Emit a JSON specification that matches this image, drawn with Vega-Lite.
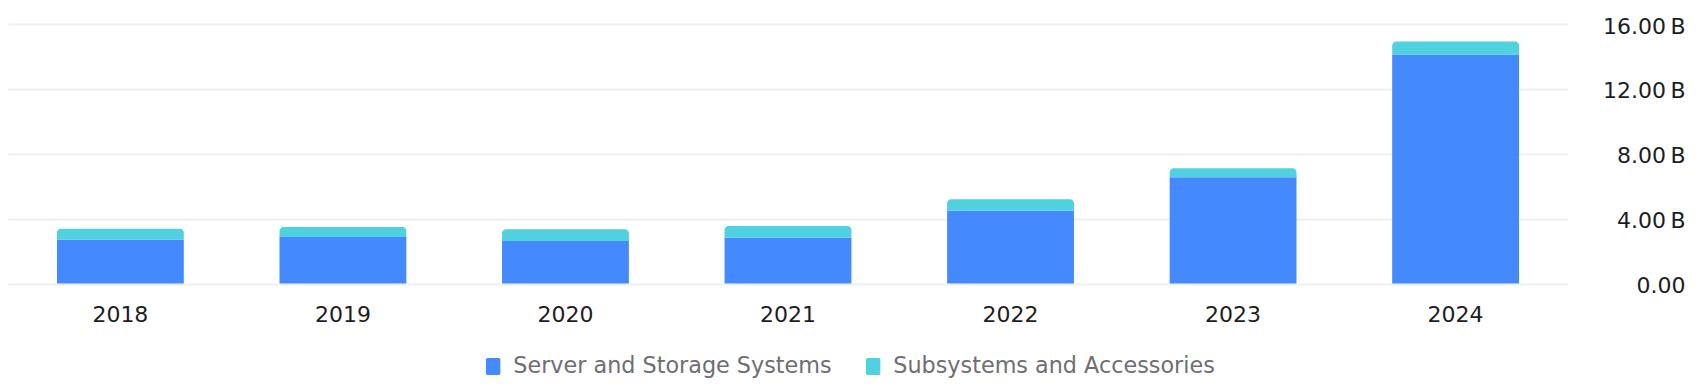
{
  "$schema": "https://vega.github.io/schema/vega-lite/v6.json",
  "width": 1560,
  "height": 259.5,
  "autosize": {"type": "none"},
  "padding": {"left": 8, "top": 24, "right": 134, "bottom": 106.5},
  "background": "white",
  "config": {"view": {"stroke": null}, "font": "DejaVu Sans"},
  "data": {
    "values": [
      {"year": "2018", "series": "Server and Storage Systems", "value": 2.71},
      {"year": "2018", "series": "Subsystems and Accessories", "value": 0.67},
      {"year": "2019", "series": "Server and Storage Systems", "value": 2.86},
      {"year": "2019", "series": "Subsystems and Accessories", "value": 0.62},
      {"year": "2020", "series": "Server and Storage Systems", "value": 2.62},
      {"year": "2020", "series": "Subsystems and Accessories", "value": 0.73},
      {"year": "2021", "series": "Server and Storage Systems", "value": 2.82},
      {"year": "2021", "series": "Subsystems and Accessories", "value": 0.72},
      {"year": "2022", "series": "Server and Storage Systems", "value": 4.48},
      {"year": "2022", "series": "Subsystems and Accessories", "value": 0.72},
      {"year": "2023", "series": "Server and Storage Systems", "value": 6.55},
      {"year": "2023", "series": "Subsystems and Accessories", "value": 0.56},
      {"year": "2024", "series": "Server and Storage Systems", "value": 14.12},
      {"year": "2024", "series": "Subsystems and Accessories", "value": 0.8}
    ]
  },
  "encoding": {
    "x": {
      "field": "year",
      "type": "ordinal",
      "scale": {"paddingInner": 0.43, "paddingOuter": 0.22},
      "axis": {
        "title": null,
        "labelAngle": 0,
        "domain": false,
        "ticks": false,
        "labelFontSize": 22,
        "labelColor": "#1d1d1f",
        "labelPadding": 21,
        "grid": false
      }
    }
  },
  "layer": [
    {
      "transform": [{"filter": "datum.series == 'Server and Storage Systems'"}],
      "mark": {"type": "bar"},
      "encoding": {
        "y": {
          "field": "value",
          "type": "quantitative",
          "scale": {"domain": [0, 16], "nice": false},
          "axis": {
            "orient": "right",
            "title": null,
            "values": [0, 4, 8, 12, 16],
            "labelExpr": "datum.value == 0 ? '0.00' : format(datum.value, '.2f') + '\u2009B'",
            "domain": false,
            "ticks": false,
            "grid": true,
            "gridColor": "#efefef",
            "gridWidth": 2,
            "labelAlign": "right",
            "labelBaseline": "middle",
            "labelPadding": 117,
            "labelOffset": 2,
            "labelFontSize": 22,
            "labelColor": "#1d1d1f"
          }
        },
        "color": {
          "field": "series",
          "type": "nominal",
          "scale": {
            "domain": ["Server and Storage Systems", "Subsystems and Accessories"],
            "range": ["#4589FF", "#4FD1E0"]
          },
          "legend": {
            "title": null,
            "orient": "none",
            "direction": "horizontal",
            "legendX": 474,
            "legendY": 331,
            "padding": 0,
            "symbolType": "M-0.65,-1H0.65A0.2,0.2 0 0 1 0.85,-0.8V0.8A0.2,0.2 0 0 1 0.65,1H-0.65A0.2,0.2 0 0 1 -0.85,0.8V-0.8A0.2,0.2 0 0 1 -0.65,-1Z",
            "symbolSize": 289,
            "symbolStrokeWidth": 0,
            "labelFontSize": 22.3,
            "labelLimit": 0,
            "labelColor": "#6e6e73",
            "labelOffset": 9,
            "columnPadding": 30
          }
        }
      }
    },
    {
      "transform": [
        {"stack": "value", "groupby": ["year"], "as": ["v0", "v1"], "sort": [{"field": "series"}]},
        {"filter": "datum.series == 'Subsystems and Accessories'"}
      ],
      "mark": {"type": "bar", "cornerRadiusTopLeft": 4, "cornerRadiusTopRight": 4},
      "encoding": {
        "y": {"field": "v1", "type": "quantitative"},
        "y2": {"field": "v0"},
        "color": {"field": "series", "type": "nominal"}
      }
    }
  ]
}
